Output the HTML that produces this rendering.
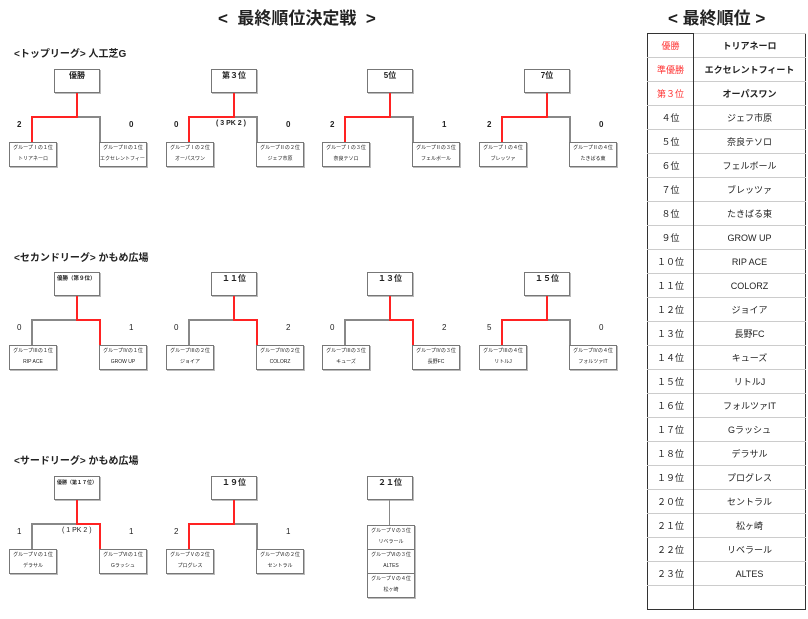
<!DOCTYPE html>
<html><head><meta charset="utf-8"><style>
body{margin:0;width:808px;height:619px;background:#fff;position:relative;overflow:hidden;font-family:"Liberation Sans","Noto Sans CJK JP",sans-serif;color:#222}
.a{position:absolute;white-space:nowrap}
.t{font-weight:bold;font-size:17px}
.st{font-weight:bold;font-size:10px}
.b{position:absolute}
.h{position:absolute;left:45px;top:0;width:44px;height:22px;border:1px solid #777;box-shadow:1px 1px 0 #bbb;font-weight:bold;font-size:8px;text-align:center;line-height:12px;background:#fff;white-space:nowrap;overflow:hidden}
.c{position:absolute;top:73px;width:46px;height:23px;border:1px solid #777;box-shadow:1px 1px 0 #bbb;font-size:5px;text-align:center;line-height:11px;background:#fff;white-space:nowrap;overflow:hidden}
.l{position:absolute;background:#888}
.r{background:#f22}
.s{position:absolute;top:51px;font-size:8px;font-weight:bold;white-space:nowrap}
.n{font-weight:normal}
table{position:absolute;left:647px;top:33px;width:159px;border-collapse:collapse;border:1px solid #333}
td{height:23px;border-top:1px solid #ccc;font-size:9px;text-align:center;padding:0}
td:first-child{width:45px;border-right:1px solid #333}
.red{color:#f33}
.bd{font-weight:bold}
.sm{font-size:5.5px !important;text-align:left !important;padding-left:2px;width:42px !important}
</style></head><body>
<div class="a t" style="left:218px;top:4px">&lt;&nbsp; 最終順位決定戦&nbsp; &gt;</div>
<div class="a t" style="left:668px;top:4px">&lt; 最終順位 &gt;</div>
<div class="a st" style="left:14px;top:45px">&lt;トップリーグ&gt; 人工芝G</div>
<div class="a st" style="left:14px;top:249px">&lt;セカンドリーグ&gt; かもめ広場</div>
<div class="a st" style="left:14px;top:452px">&lt;サードリーグ&gt; かもめ広場</div>

<!-- Row 1 -->
<div class="b" style="left:9px;top:69px">
<div class="h">優勝</div>
<div class="l" style="left:90px;top:47px;width:2px;height:26px"></div><div class="l" style="left:68px;top:47px;width:24px;height:2px"></div>
<div class="l r" style="left:67px;top:24px;width:2px;height:25px"></div><div class="l r" style="left:22px;top:47px;width:47px;height:2px"></div><div class="l r" style="left:22px;top:47px;width:2px;height:26px"></div>
<div class="s" style="left:8px">2</div><div class="s" style="left:120px">0</div>
<div class="c" style="left:0">グループⅠの１位<br>トリアネーロ</div><div class="c" style="left:90px">グループⅡの１位<br>エクセレントフィート</div>
</div>
<div class="b" style="left:166px;top:69px">
<div class="h">第３位</div>
<div class="l" style="left:90px;top:47px;width:2px;height:26px"></div><div class="l" style="left:68px;top:47px;width:24px;height:2px"></div>
<div class="l r" style="left:67px;top:24px;width:2px;height:25px"></div><div class="l r" style="left:22px;top:47px;width:47px;height:2px"></div><div class="l r" style="left:22px;top:47px;width:2px;height:26px"></div>
<div class="s" style="left:8px">0</div><div class="s" style="left:120px">0</div><div class="s" style="left:50px;font-size:7px">( 3 PK 2 )</div>
<div class="c" style="left:0">グループⅠの２位<br>オーパスワン</div><div class="c" style="left:90px">グループⅡの２位<br>ジェフ市原</div>
</div>
<div class="b" style="left:322px;top:69px">
<div class="h">5位</div>
<div class="l" style="left:90px;top:47px;width:2px;height:26px"></div><div class="l" style="left:68px;top:47px;width:24px;height:2px"></div>
<div class="l r" style="left:67px;top:24px;width:2px;height:25px"></div><div class="l r" style="left:22px;top:47px;width:47px;height:2px"></div><div class="l r" style="left:22px;top:47px;width:2px;height:26px"></div>
<div class="s" style="left:8px">2</div><div class="s" style="left:120px">1</div>
<div class="c" style="left:0">グループⅠの３位<br>奈良テソロ</div><div class="c" style="left:90px">グループⅡの３位<br>フェルボール</div>
</div>
<div class="b" style="left:479px;top:69px">
<div class="h">7位</div>
<div class="l" style="left:90px;top:47px;width:2px;height:26px"></div><div class="l" style="left:68px;top:47px;width:24px;height:2px"></div>
<div class="l r" style="left:67px;top:24px;width:2px;height:25px"></div><div class="l r" style="left:22px;top:47px;width:47px;height:2px"></div><div class="l r" style="left:22px;top:47px;width:2px;height:26px"></div>
<div class="s" style="left:8px">2</div><div class="s" style="left:120px">0</div>
<div class="c" style="left:0">グループⅠの４位<br>ブレッツァ</div><div class="c" style="left:90px">グループⅡの４位<br>たきばる東</div>
</div>

<!-- Row 2 -->
<div class="b" style="left:9px;top:272px">
<div class="h sm">優勝（第９位）</div>
<div class="l" style="left:22px;top:47px;width:2px;height:26px"></div><div class="l" style="left:22px;top:47px;width:47px;height:2px"></div>
<div class="l r" style="left:67px;top:24px;width:2px;height:25px"></div><div class="l r" style="left:67px;top:47px;width:25px;height:2px"></div><div class="l r" style="left:90px;top:47px;width:2px;height:26px"></div>
<div class="s n" style="left:8px">0</div><div class="s n" style="left:120px">1</div>
<div class="c" style="left:0">グループⅢの１位<br>RIP ACE</div><div class="c" style="left:90px">グループⅣの１位<br>GROW UP</div>
</div>
<div class="b" style="left:166px;top:272px">
<div class="h">１１位</div>
<div class="l" style="left:22px;top:47px;width:2px;height:26px"></div><div class="l" style="left:22px;top:47px;width:47px;height:2px"></div>
<div class="l r" style="left:67px;top:24px;width:2px;height:25px"></div><div class="l r" style="left:67px;top:47px;width:25px;height:2px"></div><div class="l r" style="left:90px;top:47px;width:2px;height:26px"></div>
<div class="s n" style="left:8px">0</div><div class="s n" style="left:120px">2</div>
<div class="c" style="left:0">グループⅢの２位<br>ジョイア</div><div class="c" style="left:90px">グループⅣの２位<br>COLORZ</div>
</div>
<div class="b" style="left:322px;top:272px">
<div class="h">１３位</div>
<div class="l" style="left:22px;top:47px;width:2px;height:26px"></div><div class="l" style="left:22px;top:47px;width:47px;height:2px"></div>
<div class="l r" style="left:67px;top:24px;width:2px;height:25px"></div><div class="l r" style="left:67px;top:47px;width:25px;height:2px"></div><div class="l r" style="left:90px;top:47px;width:2px;height:26px"></div>
<div class="s n" style="left:8px">0</div><div class="s n" style="left:120px">2</div>
<div class="c" style="left:0">グループⅢの３位<br>キューズ</div><div class="c" style="left:90px">グループⅣの３位<br>長野FC</div>
</div>
<div class="b" style="left:479px;top:272px">
<div class="h">１５位</div>
<div class="l" style="left:90px;top:47px;width:2px;height:26px"></div><div class="l" style="left:68px;top:47px;width:24px;height:2px"></div>
<div class="l r" style="left:67px;top:24px;width:2px;height:25px"></div><div class="l r" style="left:22px;top:47px;width:47px;height:2px"></div><div class="l r" style="left:22px;top:47px;width:2px;height:26px"></div>
<div class="s n" style="left:8px">5</div><div class="s n" style="left:120px">0</div>
<div class="c" style="left:0">グループⅢの４位<br>リトルJ</div><div class="c" style="left:90px">グループⅣの４位<br>フォルツァIT</div>
</div>

<!-- Row 3 -->
<div class="b" style="left:9px;top:476px">
<div class="h sm" style="font-size:5px !important">優勝（第１７位）</div>
<div class="l" style="left:22px;top:47px;width:2px;height:26px"></div><div class="l" style="left:22px;top:47px;width:47px;height:2px"></div>
<div class="l r" style="left:67px;top:24px;width:2px;height:25px"></div><div class="l r" style="left:67px;top:47px;width:25px;height:2px"></div><div class="l r" style="left:90px;top:47px;width:2px;height:26px"></div>
<div class="s n" style="left:8px">1</div><div class="s n" style="left:120px">1</div><div class="s n" style="left:53px;font-size:7px">( 1 PK 2 )</div>
<div class="c" style="left:0">グループⅤの１位<br>デラサル</div><div class="c" style="left:90px">グループⅥの１位<br>Gラッシュ</div>
</div>
<div class="b" style="left:166px;top:476px">
<div class="h">１９位</div>
<div class="l" style="left:90px;top:47px;width:2px;height:26px"></div><div class="l" style="left:68px;top:47px;width:24px;height:2px"></div>
<div class="l r" style="left:67px;top:24px;width:2px;height:25px"></div><div class="l r" style="left:22px;top:47px;width:47px;height:2px"></div><div class="l r" style="left:22px;top:47px;width:2px;height:26px"></div>
<div class="s n" style="left:8px">2</div><div class="s n" style="left:120px">1</div>
<div class="c" style="left:0">グループⅤの２位<br>プログレス</div><div class="c" style="left:90px">グループⅥの２位<br>セントラル</div>
</div>
<div class="b" style="left:322px;top:476px">
<div class="h">２１位</div>
<div class="l" style="left:67px;top:24px;width:1px;height:25px"></div>
<div class="c" style="left:45px;top:49px">グループⅤの３位<br>リベラール</div>
<div class="c" style="left:45px;top:73px">グループⅥの３位<br>ALTES</div>
<div class="c" style="left:45px;top:97px">グループⅤの４位<br>松ヶ崎</div>
</div>

<table>
<tr><td class="red" style="border-top:none">優勝</td><td class="bd">トリアネーロ</td></tr>
<tr><td class="red">準優勝</td><td class="bd">エクセレントフィート</td></tr>
<tr><td class="red">第３位</td><td class="bd">オーパスワン</td></tr>
<tr><td>４位</td><td>ジェフ市原</td></tr>
<tr><td>５位</td><td>奈良テソロ</td></tr>
<tr><td>６位</td><td>フェルボール</td></tr>
<tr><td>７位</td><td>ブレッツァ</td></tr>
<tr><td>８位</td><td>たきばる東</td></tr>
<tr><td>９位</td><td>GROW UP</td></tr>
<tr><td>１０位</td><td>RIP ACE</td></tr>
<tr><td>１１位</td><td>COLORZ</td></tr>
<tr><td>１２位</td><td>ジョイア</td></tr>
<tr><td>１３位</td><td>長野FC</td></tr>
<tr><td>１４位</td><td>キューズ</td></tr>
<tr><td>１５位</td><td>リトルJ</td></tr>
<tr><td>１６位</td><td>フォルツァIT</td></tr>
<tr><td>１７位</td><td>Gラッシュ</td></tr>
<tr><td>１８位</td><td>デラサル</td></tr>
<tr><td>１９位</td><td>プログレス</td></tr>
<tr><td>２０位</td><td>セントラル</td></tr>
<tr><td>２１位</td><td>松ヶ崎</td></tr>
<tr><td>２２位</td><td>リベラール</td></tr>
<tr><td>２３位</td><td>ALTES</td></tr>
<tr><td></td><td></td></tr>
</table>
</body></html>
